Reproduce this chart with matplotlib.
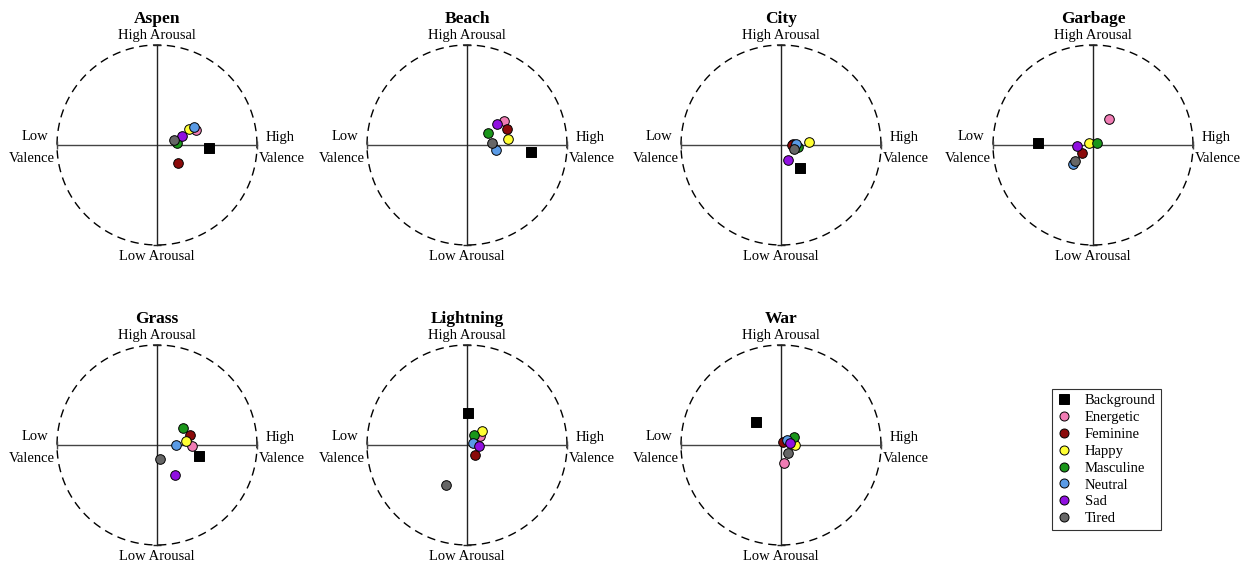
import numpy as np
import matplotlib
matplotlib.use("Agg")
import matplotlib.pyplot as plt
from matplotlib.lines import Line2D

plt.rcParams['font.family'] = ['Liberation Serif', 'DejaVu Serif']

# emotion categories and marker colours
categories = ["Background", "Energetic", "Feminine", "Happy", "Masculine", "Neutral", "Sad", "Tired"]
colors = ["#000000", "#f07cb4", "#8b0a0a", "#ffff33", "#1a961a", "#5a9be6", "#9010e0", "#666666"]

scenes = ["Aspen", "Beach", "City", "Garbage", "Grass", "Lightning", "War"]

# valence (x) / arousal (y) per category, same order as categories
aspen_val = [0.52, 0.39, 0.21, 0.32, 0.20, 0.37, 0.25, 0.17]
aspen_aro = [-0.03, 0.15, -0.18, 0.16, 0.02, 0.18, 0.09, 0.05]
beach_val = [0.64, 0.37, 0.40, 0.41, 0.21, 0.29, 0.30, 0.25]
beach_aro = [-0.07, 0.24, 0.16, 0.06, 0.12, -0.05, 0.21, 0.02]
city_val = [0.19, 0.12, 0.11, 0.28, 0.17, 0.15, 0.07, 0.13]
city_aro = [-0.23, 0.01, 0.00, 0.03, -0.02, 0.01, -0.15, -0.04]
garbage_val = [-0.55, 0.16, -0.11, -0.04, 0.04, -0.20, -0.16, -0.18]
garbage_aro = [0.02, 0.26, -0.08, 0.02, 0.02, -0.19, -0.01, -0.16]
grass_val = [0.42, 0.35, 0.33, 0.29, 0.26, 0.19, 0.18, 0.03]
grass_aro = [-0.11, -0.01, 0.10, 0.04, 0.17, 0.00, -0.30, -0.14]
lightning_val = [0.01, 0.13, 0.08, 0.15, 0.07, 0.06, 0.12, -0.21]
lightning_aro = [0.32, 0.09, -0.10, 0.14, 0.10, 0.02, -0.01, -0.40]
war_val = [-0.25, 0.03, 0.02, 0.14, 0.13, 0.06, 0.09, 0.07]
war_aro = [0.23, -0.18, 0.03, 0.00, 0.08, 0.05, 0.02, -0.08]

valence = [aspen_val, beach_val, city_val, garbage_val, grass_val, lightning_val, war_val]
arousal = [aspen_aro, beach_aro, city_aro, garbage_aro, grass_aro, lightning_aro, war_aro]

W, H = 1251, 569
fig = plt.figure(figsize=(W / 100, H / 100), dpi=100)

# panel centres in pixels, 100 px per unit
centres = [(157, 145), (467, 145), (781, 145), (1093, 145),
           (157, 445), (467, 445), (781, 445)]
hw, hh = 150, 130

for k, name in enumerate(scenes):
    cx, cy = centres[k]
    ax = fig.add_axes([(cx - hw) / W, (H - cy - hh) / H, 2 * hw / W, 2 * hh / H])
    ax.set_xlim(-hw / 100, hw / 100)
    ax.set_ylim(-hh / 100, hh / 100)
    ax.axis("off")

    t = np.linspace(0, 2 * np.pi, 400)
    ax.plot(np.cos(t), np.sin(t), color="black", lw=1.0, ls=(0, (6, 4)))
    ax.plot([-1, 1], [0, 0], color="#444444", lw=1.0, marker="|", ms=6, mew=1.0)
    ax.plot([0, 0], [-1, 1], color="#222222", lw=1.0, marker="_", ms=6, mew=1.0)

    ax.text(0, 1.10, "High Arousal", ha="center", va="center", fontsize=10.5, clip_on=False)
    ax.text(0, -1.12, "Low Arousal", ha="center", va="center", fontsize=10.5, clip_on=False)
    ax.text(-1.22, 0.08, "Low", ha="center", va="center", fontsize=10.5, clip_on=False)
    ax.text(-1.02, -0.13, "Valence", ha="right", va="center", fontsize=10.5, clip_on=False)
    ax.text(1.23, 0.08, "High", ha="center", va="center", fontsize=10.5, clip_on=False)
    ax.text(1.02, -0.13, "Valence", ha="left", va="center", fontsize=10.5, clip_on=False)
    ax.text(0, 1.26, name, ha="center", va="center", fontsize=12.5, fontweight="bold", clip_on=False)

    for i, cat in enumerate(categories):
        marker = "s" if cat == "Background" else "o"
        ax.scatter(valence[k][i], arousal[k][i], s=48, marker=marker, c=colors[i],
                   edgecolors="black", linewidths=0.7, zorder=3, clip_on=False)

handles = []
for i, cat in enumerate(categories):
    marker = "s" if cat == "Background" else "o"
    handles.append(Line2D([], [], ls="none", marker=marker, ms=6.5, mfc=colors[i],
                          mec="black", mew=0.7, label=cat))
leg = fig.legend(handles=handles, loc="upper left", bbox_to_anchor=(1052 / W, 1 - 389 / H),
                 fontsize=10.5, frameon=True, fancybox=False, edgecolor="black",
                 handlelength=1.0, handletextpad=0.9, labelspacing=0.25, borderpad=0.35,
                 borderaxespad=0)
leg.get_frame().set_linewidth(0.8)

fig.savefig("out.png", dpi=100)
